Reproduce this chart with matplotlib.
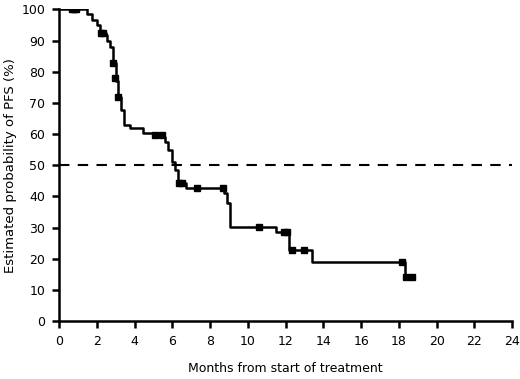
import matplotlib
matplotlib.use('Agg')
import matplotlib.pyplot as plt

# Kaplan-Meier step curve (months, % PFS)
meses = [0, 1.5, 1.75, 2.0, 2.17, 2.5, 2.55, 2.7, 2.85, 3.0, 3.1, 3.3, 3.45, 3.75, 4.45,
         5.5, 5.6, 5.77, 5.98, 6.14, 6.3, 6.7, 8.75, 8.9, 9.05, 9.3, 11.5, 12.2, 13.4,
         18.3]
pfs = [100, 98.7, 96.5, 94.9, 92.6, 91.7, 90, 87.8, 82.7, 77, 72, 67.6, 62.8, 61.8, 60.2,
       59, 57.4, 54.8, 51, 48.4, 44.2, 42.6, 41, 38, 30.1, 30.1, 28.5, 22.8, 18.9,
       14.2]
fim = 18.75

# censored observations
censura_x = [0.7, 0.8, 0.9, 2.2, 2.35, 2.85, 2.95, 3.15, 5.1, 5.45, 6.35, 6.5, 7.3, 8.7,
             10.6, 11.9, 12.05, 12.35, 13.0, 18.15, 18.35, 18.7]
censura_y = [100, 100, 100, 92.6, 92.6, 82.7, 78, 72, 59.6, 59.6, 44.2, 44.2, 42.6, 42.6,
             30.1, 28.5, 28.5, 22.8, 22.8, 18.9, 14.2, 14.2]

mediana = 50

fig = plt.figure(figsize=(5.2, 3.79), dpi=100)
ax = fig.add_axes([0.1135, 0.153, 0.8715, 0.822])

ax.step(meses + [fim], pfs + [pfs[-1]], where='post', color='black', lw=1.8)
ax.plot(censura_x, censura_y, 's', color='black', ms=4, mec='black')
ax.plot([0, 24], [mediana, mediana], '--', color='black', lw=1.5, dashes=(5, 4))

ax.set_xlim(0, 24)
ax.set_ylim(0, 100)
ax.set_xticks(range(0, 25, 2))
ax.set_yticks(range(0, 101, 10))
for s in ['top', 'right']:
    ax.spines[s].set_visible(False)
for s in ['left', 'bottom']:
    ax.spines[s].set_linewidth(1.8)
ax.tick_params(direction='out', length=5, width=1.8, labelsize=9, pad=5)
ax.set_xlabel('Months from start of treatment', fontsize=9, labelpad=10)
ax.set_ylabel('Estimated probability of PFS (%)', fontsize=9.5, labelpad=3)

fig.savefig('out.png', dpi=100)
